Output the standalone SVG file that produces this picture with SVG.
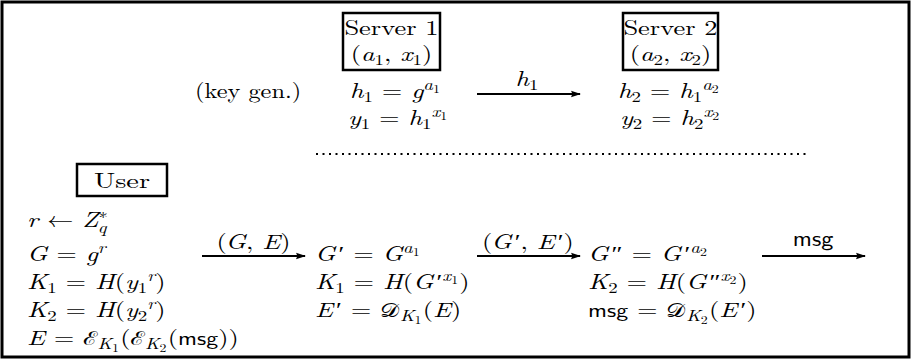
<svg xmlns="http://www.w3.org/2000/svg" width="913" height="364" viewBox="0 0 913 364">
<style>
.t{font-family:"CMU Serif","Latin Modern Roman","Liberation Serif",serif;font-size:21px;fill:#000}
.i{font-style:italic}
.s{font-size:15px}
.ss{font-size:11px}
.sf{font-family:"CMU Sans Serif","Latin Modern Sans","DejaVu Sans",sans-serif;font-style:normal;font-size:19px}
.lsf{font-family:"CMU Sans Serif","Latin Modern Sans","DejaVu Sans",sans-serif;font-size:21px;fill:#000}
.box{fill:none;stroke:#000;stroke-width:2.5}
.arr{stroke:#000;stroke-width:2;fill:none;marker-end:url(#ah)}
.cal{font-family:"Noto Serif","DejaVu Serif",serif;font-style:normal;font-size:19px}
</style>
<defs>
<marker id="ah" markerUnits="userSpaceOnUse" markerWidth="12" markerHeight="10" refX="9" refY="5" orient="auto">
<path d="M0,1.8 L10,5 L0,8.2 Q2,5 0,1.8 Z" fill="#000"/>
</marker>
</defs>
<rect x="2" y="2" width="907" height="355" fill="#fff" stroke="#000" stroke-width="3"/>

<g id="keygen-label"><text class="t" transform="translate(195 98) scale(1.16 1)">(key gen.)</text></g>

<g id="server1">
<rect class="box" x="343" y="13" width="97" height="57"/>
<text class="t" text-anchor="middle" transform="translate(391.5 35) scale(1.26 1)">Server 1</text>
<text class="t" text-anchor="middle" transform="translate(391.5 61) scale(1.26 1)">(<tspan class="i">a</tspan><tspan class="s" dy="4">1</tspan><tspan dy="-4">, </tspan><tspan class="i">x</tspan><tspan class="s" dy="4">1</tspan><tspan dy="-4">)</tspan></text>
<text class="t" transform="translate(350 98) scale(1.26 1)"><tspan class="i">h</tspan><tspan class="s" dy="4">1</tspan><tspan dy="-4"> = </tspan><tspan class="i">g</tspan><tspan class="s i" dy="-8">a</tspan><tspan class="ss" dy="3">1</tspan></text>
<text class="t" transform="translate(348 125) scale(1.26 1)"><tspan class="i">y</tspan><tspan class="s" dy="4">1</tspan><tspan dy="-4"> = </tspan><tspan class="i">h</tspan><tspan class="s" dy="4">1</tspan><tspan class="s i" dy="-12">x</tspan><tspan class="ss" dy="3">1</tspan></text>
</g>

<g id="server2">
<rect class="box" x="623" y="13" width="95" height="57"/>
<text class="t" text-anchor="middle" transform="translate(670.5 35) scale(1.26 1)">Server 2</text>
<text class="t" text-anchor="middle" transform="translate(670.5 61) scale(1.26 1)">(<tspan class="i">a</tspan><tspan class="s" dy="4">2</tspan><tspan dy="-4">, </tspan><tspan class="i">x</tspan><tspan class="s" dy="4">2</tspan><tspan dy="-4">)</tspan></text>
<text class="t" transform="translate(618 98) scale(1.26 1)"><tspan class="i">h</tspan><tspan class="s" dy="4">2</tspan><tspan dy="-4"> = </tspan><tspan class="i">h</tspan><tspan class="s" dy="4">1</tspan><tspan class="s i" dy="-12">a</tspan><tspan class="ss" dy="3">2</tspan></text>
<text class="t" transform="translate(620 125) scale(1.26 1)"><tspan class="i">y</tspan><tspan class="s" dy="4">2</tspan><tspan dy="-4"> = </tspan><tspan class="i">h</tspan><tspan class="s" dy="4">2</tspan><tspan class="s i" dy="-12">x</tspan><tspan class="ss" dy="3">2</tspan></text>
</g>

<g id="user">
<rect class="box" x="77" y="164" width="90" height="32"/>
<text class="t" text-anchor="middle" transform="translate(122 188) scale(1.35 1)">User</text>
<text class="t" transform="translate(27 227) scale(1.26 1)"><tspan class="i">r</tspan> ← <tspan class="i">Z</tspan><tspan class="s" dy="-8">∗</tspan><tspan class="s i" dx="-8" dy="14">q</tspan></text>
<text class="t" transform="translate(27 261) scale(1.26 1)"><tspan class="i">G</tspan> = <tspan class="i">g</tspan><tspan class="s i" dy="-8">r</tspan></text>
<text class="t" transform="translate(27 289) scale(1.26 1)"><tspan class="i">K</tspan><tspan class="s" dy="4">1</tspan><tspan dy="-4"> = </tspan><tspan class="i">H</tspan>(<tspan class="i">y</tspan><tspan class="s" dy="4">1</tspan><tspan class="s i" dy="-12">r</tspan><tspan dy="8">)</tspan></text>
<text class="t" transform="translate(27 317) scale(1.26 1)"><tspan class="i">K</tspan><tspan class="s" dy="4">2</tspan><tspan dy="-4"> = </tspan><tspan class="i">H</tspan>(<tspan class="i">y</tspan><tspan class="s" dy="4">2</tspan><tspan class="s i" dy="-12">r</tspan><tspan dy="8">)</tspan></text>
<text class="t" transform="translate(27 345) scale(1.26 1)"><tspan class="i">E</tspan> = <tspan class="cal">ℰ</tspan><tspan class="s i" dy="4">K</tspan><tspan class="ss" dy="3">1</tspan><tspan dy="-7" dx="1">(</tspan><tspan class="cal">ℰ</tspan><tspan class="s i" dy="4">K</tspan><tspan class="ss" dy="3">2</tspan><tspan dy="-7" dx="1">(</tspan><tspan class="sf">msg</tspan>))</text>
</g>

<g id="server1-decrypt">
<text class="t" transform="translate(315 261) scale(1.26 1)"><tspan class="i">G</tspan><tspan dx="2.5">′</tspan> = <tspan class="i">G</tspan><tspan class="s i" dy="-8">a</tspan><tspan class="ss" dy="3">1</tspan></text>
<text class="t" transform="translate(315 289) scale(1.26 1)"><tspan class="i">K</tspan><tspan class="s" dy="4">1</tspan><tspan dy="-4"> = </tspan><tspan class="i">H</tspan>(<tspan class="i">G</tspan><tspan dx="2.5">′</tspan><tspan class="s i" dy="-8">x</tspan><tspan class="ss" dy="3">1</tspan><tspan dy="5" dx="1">)</tspan></text>
<text class="t" transform="translate(315 317) scale(1.26 1)"><tspan class="i">E</tspan><tspan dx="2.5">′</tspan> = <tspan class="cal">𝒟</tspan><tspan class="s i" dy="4">K</tspan><tspan class="ss" dy="3">1</tspan><tspan dy="-7" dx="1">(</tspan><tspan class="i">E</tspan>)</text>
</g>

<g id="server2-decrypt">
<text class="t" transform="translate(588 261) scale(1.26 1)"><tspan class="i">G</tspan><tspan dx="2.5">″</tspan> = <tspan class="i">G</tspan><tspan dx="2.5">′</tspan><tspan class="s i" dy="-8">a</tspan><tspan class="ss" dy="3">2</tspan></text>
<text class="t" transform="translate(588 289) scale(1.26 1)"><tspan class="i">K</tspan><tspan class="s" dy="4">2</tspan><tspan dy="-4"> = </tspan><tspan class="i">H</tspan>(<tspan class="i">G</tspan><tspan dx="2.5">″</tspan><tspan class="s i" dy="-8">x</tspan><tspan class="ss" dy="3">2</tspan><tspan dy="5" dx="1">)</tspan></text>
<text class="t" transform="translate(588 317) scale(1.26 1)"><tspan class="sf">msg</tspan> = <tspan class="cal">𝒟</tspan><tspan class="s i" dy="4">K</tspan><tspan class="ss" dy="3">2</tspan><tspan dy="-7" dx="1">(</tspan><tspan class="i">E</tspan><tspan dx="2.5">′</tspan>)</text>
</g>

<g id="connectors">
<line class="arr" x1="477" y1="94" x2="580" y2="94"/>
<text class="t" text-anchor="middle" transform="translate(527 86) scale(1.26 1)"><tspan class="i">h</tspan><tspan class="s" dy="4">1</tspan></text>
<line x1="316" y1="154" x2="810" y2="154" stroke="#000" stroke-width="2" stroke-dasharray="2 4.5"/>
<line class="arr" x1="202" y1="256" x2="305" y2="256"/>
<text class="t" text-anchor="middle" transform="translate(253.5 249) scale(1.26 1)">(<tspan class="i" dx="-1">G</tspan>, <tspan class="i">E</tspan>)</text>
<line class="arr" x1="477" y1="256" x2="580" y2="256"/>
<text class="t" text-anchor="middle" transform="translate(528 249) scale(1.26 1)">(<tspan class="i" dx="-1">G</tspan><tspan dx="2.5">′</tspan>, <tspan class="i">E</tspan><tspan dx="2.5">′</tspan>)</text>
<line class="arr" x1="762" y1="256" x2="865" y2="256"/>
<text class="lsf" text-anchor="middle" transform="translate(813 246) scale(1.15 1)">msg</text>
</g>
</svg>
